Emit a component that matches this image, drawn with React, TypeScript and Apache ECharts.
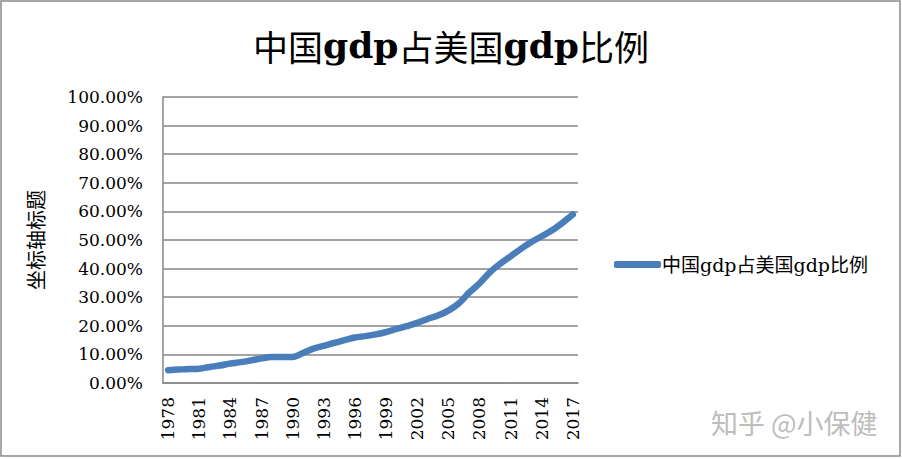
import React, { useEffect, useRef } from "react";
import * as echarts from "echarts";

const years = [
  "1978", "1979", "1980", "1981", "1982", "1983", "1984", "1985", "1986", "1987",
  "1988", "1989", "1990", "1991", "1992", "1993", "1994", "1995", "1996", "1997",
  "1998", "1999", "2000", "2001", "2002", "2003", "2004", "2005", "2006", "2007",
  "2008", "2009", "2010", "2011", "2012", "2013", "2014", "2015", "2016", "2017",
];

const ratio = [
  4.5, 4.7, 4.9, 5.0, 5.6, 6.1, 6.8, 7.3, 7.9, 8.6,
  9.1, 9.1, 9.1, 10.5, 12.0, 13.0, 14.0, 15.0, 15.9, 16.4,
  17.0, 17.8, 18.9, 19.9, 21.0, 22.4, 23.6, 25.3, 27.8, 31.6,
  34.8, 38.7, 41.7, 44.3, 46.9, 49.3, 51.3, 53.4, 56.0, 58.9,
];

const seriesName = "中国gdp占美国gdp比例";
const yAxisTitle = "坐标轴标题";
const watermark = "知乎 @小保健";

const SERIF = "'DejaVu Serif', 'Noto Sans CJK SC', serif";
const CJK = "'Noto Sans CJK SC', 'DejaVu Serif', sans-serif";

export default function App() {
  const ref = useRef<HTMLDivElement>(null);

  useEffect(() => {
    if (!ref.current) return;
    const chart = echarts.init(ref.current, null, { renderer: "svg" });
    chart.setOption({
      animation: false,
      backgroundColor: "#ffffff",
      title: {
        text: "{a|中国}{b|gdp}{a|占美国}{b|gdp}{a|比例}",
        left: "center",
        top: 22,
        textStyle: {
          rich: {
            a: { fontFamily: CJK, fontSize: 35, color: "#000", fontWeight: "normal" },
            b: { fontFamily: SERIF, fontSize: 36, color: "#000", fontWeight: "bold" },
          },
        },
      },
      legend: {
        data: [seriesName],
        orient: "vertical",
        left: 609,
        top: 250,
        icon: "roundRect",
        itemWidth: 47,
        itemHeight: 7,
        itemGap: 4,
        textStyle: { fontFamily: SERIF, fontSize: 19, color: "#000", padding: [0, 0, 0, -4] },
      },
      grid: { left: 163, right: 324, top: 97, bottom: 76 },
      xAxis: {
        type: "category",
        data: years,
        boundaryGap: true,
        axisLine: { lineStyle: { color: "#868686", width: 1.5 } },
        axisTick: { show: false },
        axisLabel: {
          interval: 2,
          rotate: 90,
          margin: 14,
          fontFamily: SERIF,
          fontSize: 17,
          color: "#000",
        },
      },
      yAxis: {
        type: "value",
        min: 0,
        max: 100,
        interval: 10,
        name: yAxisTitle,
        nameLocation: "middle",
        nameRotate: 90,
        nameGap: 118,
        nameTextStyle: { fontFamily: CJK, fontSize: 20, color: "#000" },
        axisLine: { show: true, lineStyle: { color: "#868686", width: 1.5 } },
        axisTick: { show: false },
        splitLine: { lineStyle: { color: "#868686", width: 1.5 } },
        axisLabel: {
          margin: 20,
          fontFamily: SERIF,
          fontSize: 17,
          color: "#000",
          formatter: (v: number) => v.toFixed(2) + "%",
        },
      },
      series: [
        {
          name: seriesName,
          type: "line",
          data: ratio,
          symbol: "none",
          smooth: 0.3,
          lineStyle: { color: "#4A7EBB", width: 6.5, cap: "round", join: "round" },
          itemStyle: { color: "#4A7EBB" },
        },
      ],
      graphic: [
        {
          type: "rect",
          shape: { x: 1, y: 1, width: 899, height: 455 },
          style: { fill: "none", stroke: "#8a8a8a", lineWidth: 1.5 },
          silent: true,
        },
        {
          type: "text",
          x: 711,
          y: 422,
          style: {
            text: watermark,
            fill: "#bdbdbd",
            font: "27px 'Noto Sans CJK SC', sans-serif",
            textVerticalAlign: "middle",
          },
          silent: true,
        },
      ],
    });
    return () => chart.dispose();
  }, []);

  return (
    <div
      ref={ref}
      style={{ position: "fixed", left: 0, top: 0, width: 902, height: 459 }}
    />
  );
}
